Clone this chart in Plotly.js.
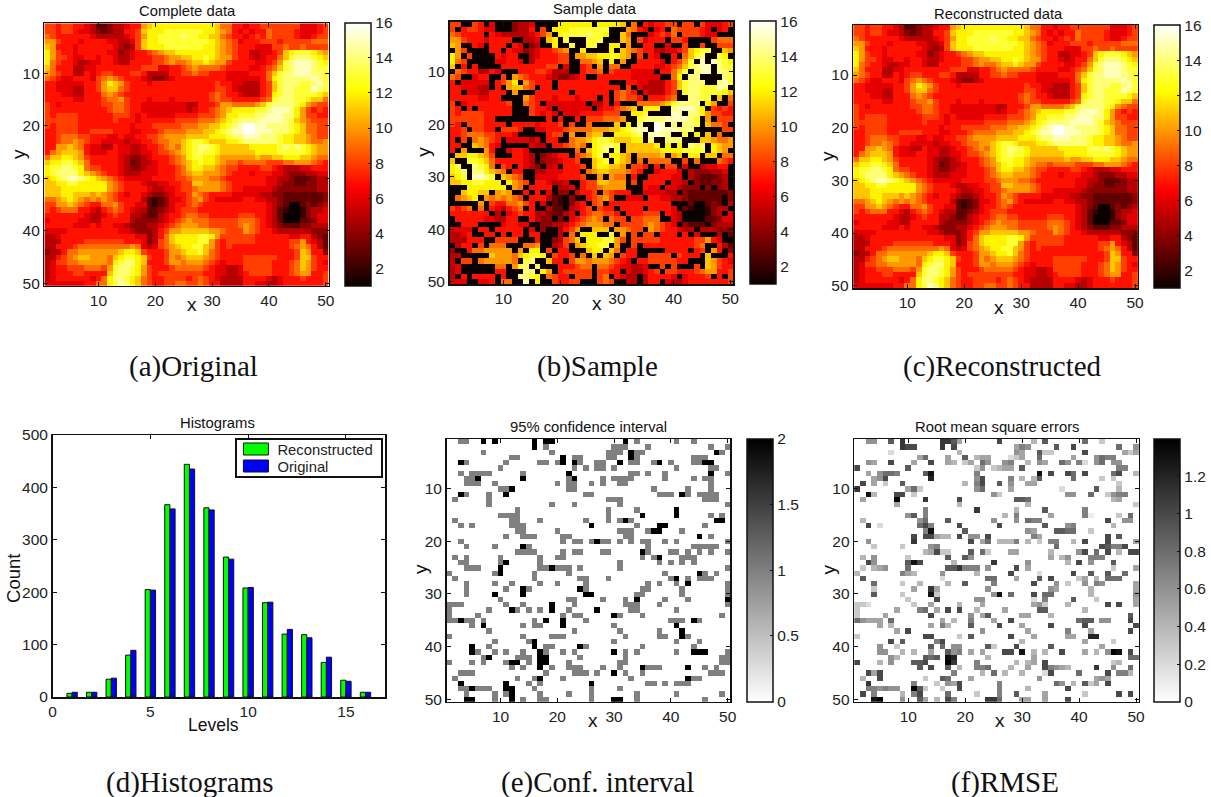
<!DOCTYPE html>
<html><head><meta charset="utf-8">
<script src="https://cdn.plot.ly/plotly-3.0.1.min.js"></script>
<style>html,body{margin:0;padding:0;background:#fff}#c{width:1211px;height:797px}</style>
</head><body><div id="c"></div>
<script>
const completeRows = [
"88788 77653 34556 77abc ccccc ccccc b9977 67788 88888 66678",
"88788 76654 34557 78bcc cdddd dddcc ba976 76779 88887 66678",
"98777 77765 55556 78acc dddde ddccb b9877 67879 88887 66788",
"aa877 76777 76655 68bcc ddddd ddddc ba986 77788 87888 88999",
"ba777 67777 77654 58bcc cdddd dddcc ba987 77666 88988 98888",
"ca877 67777 76645 67789 abbcc ccccc ba987 75566 78bcd ddcba",
"ca887 66776 77655 67778 89aab bccdc baa87 76567 79bde eedcb",
"c9877 65566 77655 77778 89a99 abbcb aa877 77667 8adef ffedc",
"b9777 55667 77777 77888 66778 9a999 98777 76678 9bdef ffedd",
"a9877 55767 88777 88755 55778 89887 77666 67779 bdeef ffeed",
"98766 77768 9a987 77654 45677 77777 77666 66679 cdeee eefed",
"77666 66778 acba8 77767 77777 77777 87766 55578 bdeee ddefd",
"77666 55778 abb98 77777 77777 77777 88765 55578 bdeed ddfed",
"77766 55777 9a987 77777 77777 77778 98776 55578 cdeed dddcb",
"77777 66777 899a8 77767 77677 77778 98877 77789 deeed dcbb9",
"87677 77777 88998 77666 66666 55777 8aa99 99abd eeeed ca988",
"87777 77777 78998 77666 66666 56778 9abcc ccdde fffec a8787",
"87888 87777 77888 76766 66677 77888 9accd ddeef ffeec a8877",
"88888 87777 77877 76777 77788 88999 abcde eeeff ffedb a9888",
"87888 87777 77777 67778 88889 99aab bcdef ggffe eeedc b9988",
"77888 87788 88777 66777 89999 aaabb cdeff ggfff eeedc b9988",
"77899 98877 76676 67788 9aaaa bbbbc ccdee fffee edccb ba988",
"77899 a9877 66665 66778 99aab cddcb bbccd eeeee edccb ba99a",
"77aab a9766 55766 55677 89a9b cdeed cbbbb bcccc cdede dcbaa",
"79abb ba766 67766 55667 889ab cdedd cbbbb bbccc cdddd dcbaa",
"9bbcc ba877 77765 44567 7789a cddcc baaaa aabaa bbccc bba99",
"bccdd cb977 77765 34556 7789a bcdcc ba998 99998 8899a aa987",
"cddee dc988 77765 44566 77789 bccbb a9887 77788 76555 66777",
"cdeee ecba9 87765 55666 77789 abbaa a9877 76777 66544 45566",
"bcdef fedcb a9876 66667 77788 9aaa9 98777 77776 65543 33455",
"bbccd dcccc ca987 77655 66778 8bbaa a9877 77776 65443 34455",
"bbbcc ccccc ca987 77765 56678 89aaa a9877 66666 54444 44455",
"bbbcc bbbab a9876 77654 45677 8a987 77766 66655 44333 33334",
"99abc ba9a9 a9877 77532 34667 89a87 66666 77665 54333 33334",
"88aab a9877 99a87 76632 34677 89877 77777 77776 54311 34345",
"87899 97765 78987 65533 45678 88777 77777 77776 53211 24556",
"77777 77655 67877 55433 56778 99887 77778 88776 53111 24566",
"67777 76655 77777 54444 56789 a9998 88889 99876 53111 33466",
"77777 66676 77665 44455 6789a aa998 88889 a9876 54333 44555",
"66667 77777 77766 54445 78aab bbbba a9888 a9877 65555 55444",
"55677 77777 77777 76645 79bcc ccddc a8888 88777 77766 77543",
"55577 77888 88887 77645 89bcc ccdda 87888 88777 77788 a7653",
"55777 89999 99999 a9656 89abc cddba 87877 77777 77789 a9753",
"45579 9aaaa aaabc cb877 78aab ccdb9 87777 77777 77778 ba774",
"55789 abbaa a9bcd dcb87 78a9a bbba9 87777 88888 87778 bb877",
"56889 9aaaa a9cde ecb77 78aa9 aaa98 76777 88888 77789 ba876",
"56778 88999 8adee dca87 77899 99987 66556 88888 77789 ba877",
"56777 88777 7bdee dca87 88888 88877 66556 78888 77789 aa778",
"56777 77767 9ceed cb987 78888 78987 65555 77776 56777 87778",
"66666 66779 9cdfe cb987 78899 88987 75555 77665 56777 77778"
];
// 95% confidence interval: listed columns per row; plain = 1, starred = 2
const ciRows = [
"3 4 7* 9* 16* 18* 19* 32* 34 41 44",
"16* 18 30 31 32 36 47 50",
"7 19 29 30 31 33* 34 35 48* 49",
"12 13 21* 23 24 29 30 33* 34 44 45 46",
"3* 4 11 17 18 20 21* 23* 24 27 28 31* 33 34 37 38* 40 44 45 46* 47*",
"10 23 25 27 28 30 41 47 48",
"3 5 6 7 8 14 22* 33 34 36 39 47* 50",
"4 5 6* 14* 22 23* 28 30 31 32 33 39 44 46 47",
"4 5 6 9 20 22 23 26 28 31 32 47",
"10 11 12* 22 23 37 43 47",
"3* 4 8 11* 25 26 38 39 40 42* 43 45 46 47 48",
"2 8 29 30 31 46 47 48",
"8 19 23 31 50",
"13 29 34 41*",
"10 11 12 13 29 35* 41* 47 49",
"2 12 13 17 25 29 31 32* 33 48* 49*",
"3 5 12 13 14 26* 34 38* 39* 46",
"13 14 20 31 32 33 36 37* 38* 42",
"11 14 15 16 21 22 32 33 45* 47",
"3 21 23 24 26 27* 28 29 31 33 35 36 39 41 50",
"4 9 14* 15 36 44 45 46 47 48",
"13 14 15 16 21 23 24 28 29 35* 36 40 41 43 45 47 50",
"2 4 10 17 20 21 35 37 38* 42 43 44",
"3 4 10 11* 17 31 38 40 42 44",
"4 5 6 10* 17 18 19* 20 21 22 24 31 50",
"1 9 10* 16 22 39 45* 46 48",
"2 16 24 25 29 40 41* 43 45 46 47",
"4 9 12 17 20 25 36 38 41 43* 50",
"4 11 14* 15 24* 25 35 36 42 50",
"4 9* 14* 25* 26* 34 35 42 50",
"10 22 23 28 32 34* 39 43 50*",
"1 2 3 11 14 19* 23 32 33 34 38 50",
"1 8 12* 13 15 17 19* 22 27* 33 34 41",
"1 6 21 23 24 30* 31 35 49",
"1 2 3* 4 5 7 16 18* 21* 25 40 41 42 44* 45",
"5 7* 14 16 17 21* 30 41*",
"8 23 31 38 42*",
"1 14 19 20 21 32 38 39 42* 43",
"9 15 16* 30 41 45",
"5* 8 16* 18 19 24* 25 35 44",
"5* 6 9 11 14 17* 18 21 23 30* 32 34 41 44* 45* 46* 50",
"7 8* 13 14 15 17* 18* 24 32 49 50",
"1 5 7 11 12* 13* 15 17* 18* 22 31 32 49 50",
"12 14 17* 19 22 23 24 28 31 35* 36 37 38 43* 46 48",
"3 4 5 18 23 24 25 27 30* 32 35 47 48 49",
"2 13 16 17* 21 33 43* 44 45",
"3* 11* 15 17 26* 36 37 39 41 42 43",
"3 4 5* 6 7 8 11* 12* 16 26 31",
"4 9 11 12* 17 22 26 34 41 49",
"4* 5* 9 12* 14 17 18 26 30* 31* 34 46"
];
// RMSE: column:value-in-tenths per row (blank cells are 0). These cells are the unsampled ones.
const rmseRows = [
"3:6 4:6 7:9 9:11 16:11 17:11 18:9 19:5 26:10 32:4 34:9 41:8 44:3",
"9:11 10:10 11:10 16:11 18:10 29:5 30:7 31:6 36:9 39:10 47:8 50:6",
"7:2 19:4 29:6 30:5 33:9 34:3 35:3 41:10 48:5 49:3 50:5",
"12:5 13:8 17:5 20:9 22:4 23:5 24:5 28:2 29:3 30:5 33:8 39:5 43:6 44:8 45:7 46:7",
"3:6 4:5 7:10 11:5 14:10 17:5 18:4 20:3 21:5 23:8 24:6 27:6 28:7 31:4 33:6 34:5 37:8 38:6 40:7 41:2 43:6 44:8 46:6 47:6",
"1:10 10:9 22:3 23:6 25:3 26:4 27:5 28:5 30:9 47:7 48:7",
"3:5 5:6 6:8 7:8 8:7 13:9 14:13 22:7 33:13 35:10 38:10 39:8 41:10 46:8 47:10 50:4",
"4:5 5:6 6:10 14:12 22:6 23:10 28:7 30:4 32:4 33:9 39:8 44:3 46:3",
"2:10 4:5 6:3 9:9 20:4 22:7 23:10 26:9 28:6 31:5 32:5 47:3",
"1:11 10:5 11:8 12:3 22:6 23:8 28:5 37:2 43:9 47:4",
"3:13 4:4 8:10 9:10 11:3 25:6 26:3 38:6 39:6 42:8 45:3 46:6 47:7 48:7",
"2:5 8:14 13:11 19:10 29:9 30:9 31:8 46:4 47:5",
"8:5 19:4 31:4 50:3",
"13:7 22:11 29:4 34:9 41:7",
"10:6 11:9 13:7 27:4 29:7 35:5 41:7 42:1 47:3 49:8",
"2:4 12:6 13:8 17:9 25:6 29:6 31:8 32:7 33:7 45:10 48:6 49:6",
"3:10 5:2 12:8 13:10 14:7 19:10 26:10 34:9 38:6 39:7 46:4",
"13:7 14:13 20:9 31:6 32:5 36:9 37:9 38:8 39:8 42:3",
"11:10 13:10 14:10 15:5 16:4 17:4 19:10 21:6 22:6 24:10 32:7 33:5 45:10 47:9",
"3:6 11:11 21:10 23:5 24:8 26:4 27:4 28:4 29:7 31:4 33:3 35:7 36:7 39:4 41:10 45:10 50:5",
"4:3 9:3 14:6 15:7 36:8 44:10 45:9 46:7 47:7 48:10",
"13:4 14:5 15:10 16:3 17:3 21:9 23:8 24:3 28:5 29:5 35:4 40:6 41:10 43:8 45:10 47:4 49:10 50:10",
"2:4 4:6 10:3 17:9 20:9 21:6 35:5 37:4 38:6 42:7 43:7 44:7",
"3:10 4:6 10:9 11:13 12:10 18:4 25:11 31:6 38:4 40:10 42:6 46:9",
"2:3 4:4 5:5 6:6 10:8 17:9 18:9 19:11 20:7 21:7 22:7 24:6 29:10 31:5 46:3 50:5",
"1:4 9:7 10:5 11:4 16:6 22:4 28:10 33:2 39:10 42:9 45:9 48:8",
"2:9 16:2 24:8 25:8 29:5 33:9 35:10 40:3 41:5 43:4 45:8 46:8 47:8",
"4:8 9:3 12:4 17:4 20:9 25:7 32:10 36:6 38:3 41:6 43:7 44:6 50:5",
"4:3 11:5 14:11 15:5 24:6 35:6 36:5 42:4 50:5",
"4:9 9:3 14:13 15:3 25:6 26:13 28:8 32:10 34:8 35:8 42:4 50:6",
"10:3 15:10 22:6 23:6 32:2 34:7 39:9 43:3 50:5",
"1:3 2:3 3:2 11:3 14:5 19:4 23:5 32:5 33:6 34:3 38:4 45:10 47:10 50:5",
"1:3 8:5 12:7 13:8 15:5 17:10 19:10 22:4 27:5 33:9 34:9 41:4",
"1:3 6:5 14:10 21:6 23:5 24:9 30:5 31:5 35:4 49:9",
"1:8 2:6 3:5 4:5 5:5 7:8 16:5 18:4 21:7 25:5 28:10 40:8 41:9 42:9 44:6 45:6 49:10",
"5:5 7:4 14:5 16:7 17:4 21:9 26:10 30:5 35:10 41:10 50:10",
"8:5 10:10 23:6 31:5 38:7 42:5 49:10",
"1:3 13:10 14:10 19:3 21:9 28:10 32:5 38:5 39:5 42:12 43:12",
"7:10 9:9 15:7 16:10 30:4 41:5 46:3",
"5:6 8:3 14:9 16:8 18:6 19:6 24:9 25:3 29:10 35:9 44:5",
"5:6 6:6 9:4 11:4 14:5 17:9 18:6 19:7 21:5 23:5 27:10 28:10 30:13 32:4 34:4 37:10 41:5 43:4 45:6 46:14 47:13 49:10",
"7:6 8:4 13:9 14:8 15:9 17:13 18:12 24:4 32:5 49:8 50:8",
"1:10 5:4 7:6 11:9 12:9 13:10 17:14 18:11 22:7 29:4 31:4 32:5 34:10 46:3 47:4",
"12:9 14:10 17:9 19:4 22:7 23:7 24:8 28:4 31:5 34:10 35:7 36:6 37:5 38:4 43:11 46:6 49:8",
"3:10 4:5 5:10 18:7 23:4 25:8 27:4 30:4 34:2 35:10 40:8 45:10 47:7 48:7 49:4",
"2:4 5:10 13:3 16:9 17:8 21:5 33:6 43:5 44:6 45:5",
"3:11 11:7 15:3 17:6 18:5 19:10 26:7 36:8 37:6 39:4 41:9 42:3 43:5 45:10",
"3:7 4:7 5:6 6:7 7:6 8:6 11:14 12:9 13:3 16:3 19:10 26:7 31:4 38:10",
"2:10 4:7 9:4 11:7 12:10 17:8 22:3 26:7 29:9 34:5 41:3 47:10 49:10",
"4:13 5:14 9:6 12:9 13:5 15:4 17:10 18:7 24:11 25:11 26:8 30:5 31:5 34:5 38:10"
];
// further unsampled (black) cells seen only in the "Sample data" panel: [row, columns...]
const sampleExtra = [
[1,10,11],[2,2],[6,4,5,6,7],[8,7,8],[9,7,8],[13,10,16,33],[14,3,11,14,15],[15,12],[18,12],[19,9,10,12],
[24,13,14],[25,9,15,16],[27,3],[28,3],[33,2],[39,1,2,6,8],[44,2,3],[45,6,7],[47,4,5,6,7,8]
];
const levels = [1,2,3,4,5,6,7,8,9,10,11,12,13,14,15,16];
const histReconstructed = [7,9,34,80,205,367,444,361,267,208,180,120,119,66,32,9];
const histOriginal = [9,9,36,89,204,359,435,357,263,209,181,129,113,76,30,9];

const blank = () => Array.from({length:50}, () => new Array(50).fill(0));
const complete = completeRows.map((r,i) => {
  const s = r.replace(/ /g,'');
  if (s.length !== 50) throw new Error('row '+(i+1)+' has '+s.length);
  return Array.from(s, ch => parseInt(ch,17));
});
const ci = blank(), rmse = blank();
ciRows.forEach((r,i) => r.split(' ').forEach(t => { ci[i][parseInt(t)-1] = t.endsWith('*') ? 2 : 1; }));
rmseRows.forEach((r,i) => r.split(' ').forEach(t => { const [c,v] = t.split(':'); rmse[i][c-1] = v/10; }));
const sample = complete.map((row,i) => row.map((v,j) => rmse[i][j] > 0 ? 1 : v));
sampleExtra.forEach(([r,...cols]) => cols.forEach(c => { sample[r-1][c-1] = 1; }));

const W = 1211, H = 797;
const hot = [[0,'rgb(11,0,0)'],[0.375,'rgb(255,0,0)'],[0.75,'rgb(255,255,0)'],[1,'rgb(255,255,255)']];
const greys = [[0,'rgb(255,255,255)'],[1,'rgb(0,0,0)']];
const FONT = 'Liberation Sans, Arial, sans-serif';
const tickFont = {family:FONT,size:15.5,color:'#222'};

const panels = [
 {z:complete, scale:hot, zmin:1, zmax:16, box:[44.5,329.5,23.3,285.8], cb:346, title:'Complete data', tx:188, ty:11, xl:192, cbv:[2,4,6,8,10,12,14,16]},
 {z:sample, scale:hot, zmin:1, zmax:16, box:[450.7,735,21.7,284.3], cb:751.7, title:'Sample data', tx:596, ty:9, xl:598, cbv:[2,4,6,8,10,12,14,16]},
 {z:complete, scale:hot, zmin:1, zmax:16, box:[855.3,1140.7,25,288.3], cb:1156.7, title:'Reconstructed data', tx:1001, ty:14, xl:1001, cbv:[2,4,6,8,10,12,14,16]},
 {z:ci, scale:greys, zmin:0, zmax:2, box:[447.7,732.3,439,701.7], cb:749, title:'95% confidence interval', tx:590, ty:427, xl:594, cbv:[0,0.5,1,1.5,2]},
 {z:rmse, scale:greys, zmin:0, zmax:1.4, box:[856.3,1141.7,439,701.7], cb:1157, title:'Root mean square errors', tx:1000, ty:427, xl:1002, cbv:[0,0.2,0.4,0.6,0.8,1,1.2]}
];
const px = x => x/W, py = y => 1-y/H;
const note = (text,x,y,size,extra) => Object.assign({text,x:px(x),y:py(y),xref:'paper',yref:'paper',xanchor:'center',yanchor:'middle',showarrow:false,font:{family:FONT,size,color:'#111'}},extra||{});
const serif = {family:'Liberation Serif, DejaVu Serif, serif',size:29,color:'#111'};

const traces = [], layout = {width:W,height:H,margin:{l:0,r:0,t:0,b:0,pad:0},paper_bgcolor:'#fff',plot_bgcolor:'#fff',showlegend:true,bargap:0.47,bargroupgap:0,barmode:'group',annotations:[],font:{family:FONT}};
const axisBase = {ticks:'inside',ticklen:4,tickwidth:1,tickcolor:'#111',linecolor:'#111',linewidth:1.5,mirror:'ticks',showgrid:false,zeroline:false,tickfont:tickFont,automargin:false};
panels.forEach((p,i) => {
  const n = i===0 ? '' : String(i+1), [l,r,t,b] = p.box;
  traces.push({type:'heatmap',z:p.z,x0:1,dx:1,y0:1,dy:1,xaxis:'x'+n,yaxis:'y'+n,colorscale:p.scale,zmin:p.zmin,zmax:p.zmax,zsmooth:false,showlegend:false,
    colorbar:{x:px(p.cb),xref:'paper',xanchor:'left',xpad:0,ypad:0,y:py(b),yref:'paper',yanchor:'bottom',len:b-t,lenmode:'pixels',thickness:25.5,thicknessmode:'pixels',outlinewidth:1.5,outlinecolor:'#111',ticks:'inside',ticklen:3,tickcolor:'#111',tickvals:p.cbv,ticktext:p.cbv.map(String),tickfont:tickFont}});
  layout['xaxis'+n] = Object.assign({},axisBase,{domain:[px(l),px(r)],anchor:'y'+n,range:[0.5,50.5],tickvals:[10,20,30,40,50]});
  layout['yaxis'+n] = Object.assign({},axisBase,{domain:[py(b),py(t)],anchor:'x'+n,range:[50.5,0.5],tickvals:[10,20,30,40,50]});
  layout.annotations.push(note(p.title,p.tx,p.ty,14.8));
  layout.annotations.push(note('x',p.xl,b+19,19));
  layout.annotations.push(note('y',l-26,(t+b)/2-1,19,{textangle:-90}));
});
// histogram
traces.push({type:'bar',name:'Reconstructed',x:levels,y:histReconstructed,xaxis:'x6',yaxis:'y6',marker:{color:'#00ff00',line:{color:'#111',width:1}}});
traces.push({type:'bar',name:'Original',x:levels,y:histOriginal,xaxis:'x6',yaxis:'y6',marker:{color:'#0000ff',line:{color:'#111',width:1}}});
layout.xaxis6 = Object.assign({},axisBase,{domain:[px(52.7),px(386)],anchor:'y6',range:[0,17],tickvals:[0,5,10,15]});
layout.yaxis6 = Object.assign({},axisBase,{domain:[py(697),py(435)],anchor:'x6',range:[0,500],tickvals:[0,100,200,300,400,500]});
layout.legend = {x:px(236),y:py(438),xref:'paper',yref:'paper',xanchor:'left',yanchor:'top',bgcolor:'#fff',bordercolor:'#111',borderwidth:1.5,font:{family:FONT,size:14.8,color:'#222'},traceorder:'normal',tracegroupgap:0,itemwidth:30};
layout.annotations.push(note('Histograms',218,423,14.8));
layout.annotations.push(note('Levels',214,725,17.5));
layout.annotations.push(note('Count',13,578,18.5,{textangle:-90}));
// captions
[['(a)Original',194,366],['(b)Sample',599,366],['(c)Reconstructed',1004.5,366],['(d)Histograms',190.5,782],['(e)Conf. interval',598.5,782],['(f)RMSE',1007,782]]
 .forEach(([t,x,y]) => layout.annotations.push(note(t,x,y,29,{font:serif})));

Plotly.newPlot('c',traces,layout,{displayModeBar:false,staticPlot:true}).then(() => {
  // compact the legend box and widen its swatches to the reference's proportions
  const leg = document.querySelector('.legend');
  const bg = leg.querySelector('.bg');
  bg.setAttribute('height', 38); bg.setAttribute('width', 146);
  leg.querySelectorAll('.traces').forEach((g,i) => {
    g.setAttribute('transform', 'translate(0,'+(11+i*17)+')');
    const pts = g.querySelector('.legendpoints');
    if (pts) pts.setAttribute('transform', 'translate(20.5,0)');
    g.querySelectorAll('.legendpoints path').forEach(p => { p.setAttribute('d','M-12.5,6H12.5V-6H-12.5Z'); p.removeAttribute('transform'); });
    const tx = g.querySelector('.legendtext');
    if (tx) tx.setAttribute('x', 42);
  });
  leg.querySelectorAll('.scrollbox').forEach(s => s.removeAttribute('clip-path'));
});
</script></body></html>
